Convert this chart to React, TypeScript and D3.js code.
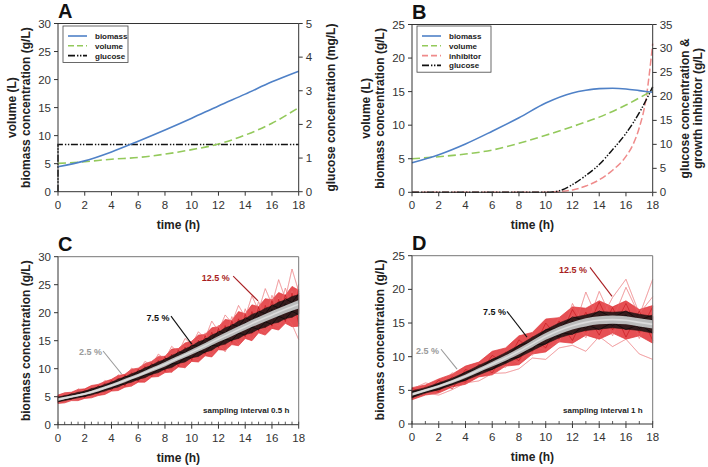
import React from 'react';
import * as d3 from 'd3';

// ---------- shared ticks ----------
const xTickValues = [0, 2, 4, 6, 8, 10, 12, 14, 16, 18];
const hours = [0, 1, 2, 3, 4, 5, 6, 7, 8, 9, 10, 11, 12, 13, 14, 15, 16, 17, 18];
const halfHours = [0, 0.5, 1, 1.5, 2, 2.5, 3, 3.5, 4, 4.5, 5, 5.5, 6, 6.5, 7, 7.5, 8, 8.5, 9, 9.5, 10, 10.5, 11, 11.5, 12, 12.5, 13, 13.5, 14, 14.5, 15, 15.5, 16, 16.5, 17, 17.5, 18];

// ---------- panel A ----------
const aTime = [0, 2, 4, 6, 8, 10, 12, 14, 16, 18];
const aBiomass = [4.45, 5.5, 7.1, 9.0, 11.0, 13.1, 15.3, 17.4, 19.6, 21.5];
const aVolume = [5.05, 5.35, 5.8, 6.1, 6.7, 7.5, 8.5, 10.1, 12.2, 15.0];
const aGlucoseTime = [0, 0, 18];
const aGlucose = [0, 1.4, 1.4]; // mg/L, right axis
const aLeftTicks = [0, 5, 10, 15, 20, 25, 30];
const aRightTicks = [0, 1, 2, 3, 4, 5];

// ---------- panel B ----------
const bTime = [0, 2, 4, 6, 8, 10, 12, 13, 14, 15, 16, 17, 18];
const bBiomass = [4.4, 5.6, 7.2, 9.1, 11.1, 13.3, 14.8, 15.2, 15.45, 15.5, 15.4, 15.15, 14.9];
const bVolTime = [0, 2, 4, 6, 8, 10, 12, 14, 16, 18];
const bVolume = [5.0, 5.3, 5.7, 6.3, 7.3, 8.5, 9.8, 11.2, 13.0, 15.2];
const bGlucoseTime = [0, 2, 4, 6, 8, 10, 10.5, 11, 12, 13, 14, 15, 16, 17, 18];
const bGlucose = [0, 0, 0, 0, 0, 0, 0.05, 0.3, 1.6, 3.5, 5.8, 8.9, 12.3, 16.6, 22];
const bInhibTime = [0, 2, 4, 6, 8, 10, 10.5, 11, 12, 13, 14, 15, 16, 16.5, 17, 17.5, 18];
const bInhibitor = [0, 0, 0, 0, 0, 0, 0.05, 0.15, 0.5, 1.3, 2.6, 4.6, 7.5, 9.8, 13.5, 19.5, 31];
const bLeftTicks = [0, 5, 10, 15, 20, 25];
const bRightTicks = [0, 5, 10, 15, 20, 25, 30, 35];

// ---------- panel C (sampling 0.5 h) ----------
const cMean = [4.5, 5.0, 5.5, 6.2, 7.0, 7.9, 8.8, 9.8, 10.8, 11.9, 13.0, 14.1, 15.3, 16.4, 17.5, 18.6, 19.6, 20.6, 21.5];
const cRedUpper = [5.3, 5.7, 5.8, 6.3, 6.4, 7.0, 7.2, 7.7, 8.1, 8.8, 9.0, 9.9, 10.1, 10.9, 11.3, 12.2, 12.2, 13.5, 13.6, 14.6, 14.9, 16.0, 16.1, 17.3, 17.5, 18.8, 18.6, 20.2, 19.8, 21.4, 21.1, 22.5, 22.3, 23.6, 23.1, 24.7, 24.0];
const cRedLower = [3.8, 3.9, 4.3, 4.3, 4.7, 4.8, 5.2, 5.4, 6.0, 6.1, 6.7, 6.9, 7.6, 7.6, 8.5, 8.6, 9.3, 9.4, 10.3, 10.2, 11.3, 11.2, 12.3, 12.1, 13.4, 13.3, 14.3, 14.1, 15.4, 15.0, 16.4, 16.0, 17.2, 16.9, 18.1, 17.5, 17.6];
const cBlackUpper = [4.9, 5.2, 5.4, 5.8, 5.95, 6.45, 6.7, 7.2, 7.55, 8.15, 8.5, 9.1, 9.5, 10.15, 10.6, 11.25, 11.65, 12.35, 12.85, 13.55, 14.05, 14.8, 15.2, 16.0, 16.5, 17.3, 17.7, 18.5, 18.9, 19.7, 20.1, 20.8, 21.2, 21.9, 22.25, 22.9, 23.2];
const cBlackLower = [4.1, 4.3, 4.6, 4.8, 5.05, 5.3, 5.7, 6.0, 6.45, 6.75, 7.3, 7.6, 8.1, 8.4, 9.0, 9.3, 9.95, 10.2, 10.95, 11.2, 11.95, 12.2, 12.95, 13.3, 14.1, 14.4, 15.1, 15.4, 16.1, 16.4, 17.1, 17.4, 18.05, 18.3, 18.95, 19.2, 19.8];
const cGreyUpper = [4.75, 5.2, 5.7, 6.45, 7.25, 8.2, 9.1, 10.15, 11.2, 12.3, 13.45, 14.6, 15.85, 17.0, 18.1, 19.25, 20.3, 21.3, 22.25];
const cGreyLower = [4.25, 4.8, 5.3, 5.95, 6.75, 7.6, 8.5, 9.45, 10.4, 11.5, 12.55, 13.6, 14.75, 15.8, 16.9, 17.95, 18.9, 19.9, 20.75];
const cOutlier1 = [4.9, 5.6, 5.2, 6.4, 5.9, 6.9, 6.6, 7.9, 7.4, 8.9, 8.3, 10.1, 9.4, 11.3, 10.6, 12.6, 11.7, 14.0, 12.9, 15.4, 14.3, 16.6, 15.4, 18.5, 16.7, 19.6, 18.2, 21.3, 19.2, 23.0, 20.4, 24.3, 21.5, 25.9, 22.5, 27.8, 23.8];
const cOutlier2 = [3.9, 4.2, 4.4, 4.6, 5.1, 5.0, 5.8, 5.5, 6.5, 6.2, 7.3, 6.9, 8.3, 7.8, 9.3, 8.6, 10.1, 9.3, 11.1, 10.1, 12.0, 11.6, 13.2, 12.4, 14.5, 13.0, 15.7, 14.3, 16.5, 15.2, 17.5, 16.4, 18.3, 17.6, 19.5, 17.9, 15.2];
const cOutlier3 = [5.2, 4.6, 5.6, 5.0, 6.2, 5.6, 6.9, 6.3, 7.8, 7.0, 8.7, 8.0, 9.8, 8.8, 11.0, 9.6, 12.3, 10.8, 13.5, 12.0, 14.9, 13.0, 16.4, 13.9, 17.8, 15.2, 19.3, 16.3, 20.7, 17.5, 22.0, 18.9, 23.1, 20.1, 24.4, 21.0, 25.1];
const cOutlier4 = [4.2, 5.1, 4.7, 5.9, 5.4, 6.7, 6.0, 7.4, 7.0, 8.2, 7.6, 9.3, 8.5, 10.4, 9.4, 11.6, 10.4, 12.7, 11.2, 14.1, 12.3, 15.3, 13.6, 16.2, 14.8, 17.4, 15.9, 18.4, 17.1, 19.8, 18.0, 21.1, 19.0, 22.6, 19.8, 23.9, 20.4];
const cRedTrace1 = [5.1, 4.6, 5.6, 5.0, 6.2, 5.5, 7.0, 6.2, 7.9, 6.9, 8.9, 7.7, 9.9, 8.6, 11.0, 9.5, 12.2, 10.3, 13.4, 11.3, 14.7, 12.3, 15.9, 13.3, 17.2, 14.3, 18.5, 15.4, 19.7, 16.3, 21.0, 17.3, 22.1, 18.3, 23.2, 19.1, 24.2];
const cRedTrace2 = [4.0, 5.2, 4.5, 5.8, 4.9, 6.5, 5.5, 7.4, 6.1, 8.3, 6.9, 9.3, 7.7, 10.4, 8.6, 11.5, 9.5, 12.6, 10.4, 13.9, 11.5, 15.1, 12.6, 16.5, 13.7, 17.7, 14.7, 18.9, 15.7, 20.2, 16.7, 21.3, 17.6, 22.4, 18.4, 23.5, 18.0];
const cBlkTrace1 = [4.9, 4.9, 5.5, 5.4, 6.0, 6.1, 6.8, 6.8, 7.6, 7.7, 8.6, 8.6, 9.6, 9.6, 10.7, 10.6, 11.8, 11.7, 13.0, 12.8, 14.2, 14.0, 15.4, 15.2, 16.7, 16.3, 17.9, 17.5, 19.1, 18.6, 20.3, 19.8, 21.4, 20.8, 22.5, 21.8, 23.4];
const cBlkTrace2 = [4.1, 4.5, 4.6, 5.1, 5.0, 5.7, 5.7, 6.4, 6.4, 7.2, 7.2, 8.1, 8.0, 9.0, 9.0, 9.9, 9.9, 10.9, 10.9, 12.0, 11.9, 13.1, 12.9, 14.2, 14.0, 15.3, 15.0, 16.4, 16.0, 17.4, 17.0, 18.4, 17.9, 19.4, 18.8, 20.3, 19.6];
const cBlkTrace3 = [4.7, 4.5, 5.2, 5.1, 5.7, 5.6, 6.5, 6.3, 7.3, 7.1, 8.2, 8.0, 9.2, 8.9, 10.2, 9.9, 11.3, 10.8, 12.4, 11.9, 13.6, 13.0, 14.7, 14.1, 16.0, 15.2, 17.1, 16.3, 18.3, 17.3, 19.5, 18.3, 20.6, 19.2, 21.6, 20.1, 22.6];
const cLeftTicks = [0, 5, 10, 15, 20, 25, 30];

// ---------- panel D (sampling 1 h) ----------
const dMean = [4.4, 5.0, 5.6, 6.3, 7.1, 8.0, 8.9, 9.8, 10.8, 11.9, 13.0, 13.9, 14.6, 15.1, 15.4, 15.5, 15.4, 15.1, 14.8];
const dRedUpper = [5.4, 5.8, 6.7, 7.4, 8.6, 9.2, 10.8, 11.3, 13.1, 13.6, 15.6, 15.8, 17.4, 17.2, 18.3, 17.4, 18.3, 17.0, 17.6];
const dRedLower = [3.6, 4.3, 4.6, 5.5, 5.9, 7.0, 7.3, 8.6, 8.8, 10.4, 10.7, 12.2, 12.0, 13.2, 12.6, 13.5, 12.6, 13.1, 12.0];
const dBlackUpper = [4.9, 5.4, 6.1, 6.8, 7.7, 8.7, 9.6, 10.6, 11.7, 12.9, 14.0, 15.0, 15.8, 16.2, 16.7, 16.6, 16.7, 16.3, 16.0];
const dBlackLower = [3.9, 4.6, 5.1, 5.8, 6.5, 7.3, 8.1, 9.0, 9.9, 10.9, 11.9, 12.8, 13.4, 13.9, 14.1, 14.3, 14.1, 13.9, 13.5];
const dGreyUpper = [4.6, 5.2, 5.8, 6.55, 7.35, 8.3, 9.25, 10.2, 11.25, 12.4, 13.5, 14.45, 15.15, 15.7, 16.0, 16.1, 16.0, 15.7, 15.4];
const dGreyLower = [4.2, 4.8, 5.4, 6.05, 6.85, 7.7, 8.55, 9.4, 10.35, 11.4, 12.5, 13.35, 14.05, 14.5, 14.8, 14.9, 14.8, 14.5, 14.2];
const dOutlier1 = [5.2, 6.1, 5.7, 7.6, 6.9, 9.0, 8.3, 10.9, 10.0, 13.1, 12.0, 15.9, 13.4, 19.6, 15.0, 18.8, 21.5, 16.4, 18.9];
const dOutlier2 = [3.8, 4.6, 4.3, 5.1, 6.1, 6.4, 7.5, 7.6, 8.2, 9.8, 9.6, 11.3, 11.7, 10.8, 13.0, 11.5, 12.6, 10.4, 9.6];
const dOutlier3 = [4.6, 5.3, 6.2, 5.8, 7.6, 7.2, 9.3, 8.4, 11.6, 10.2, 13.8, 12.1, 17.9, 14.2, 19.7, 15.4, 20.3, 16.1, 21.5];
const dOutlier4 = [4.1, 5.4, 4.9, 6.9, 6.2, 8.4, 7.7, 10.1, 9.0, 11.6, 11.0, 12.4, 16.2, 12.8, 17.1, 13.1, 17.8, 12.7, 16.9];
const dRedTrace1 = [5.3, 4.6, 6.5, 5.2, 8.1, 7.3, 10.2, 8.9, 12.5, 10.8, 15.0, 12.6, 17.0, 13.7, 18.1, 14.0, 17.9, 13.6, 17.4];
const dRedTrace2 = [3.8, 5.5, 4.8, 7.0, 6.2, 8.9, 7.6, 10.7, 9.4, 13.0, 11.3, 15.3, 12.4, 16.6, 13.2, 17.3, 12.9, 16.8, 12.4];
const dBlkTrace1 = [4.8, 5.1, 6.0, 6.5, 7.7, 8.2, 9.6, 10.0, 11.7, 12.2, 14.0, 14.2, 15.9, 15.4, 16.8, 15.8, 16.8, 15.4, 16.2];
const dBlkTrace2 = [4.0, 4.9, 5.1, 6.2, 6.5, 7.9, 8.1, 9.6, 9.9, 11.7, 11.9, 13.6, 13.3, 14.8, 14.0, 15.1, 14.0, 14.8, 13.5];
const dBlkTrace3 = [4.6, 4.7, 5.8, 5.9, 7.3, 7.5, 9.2, 9.2, 11.2, 11.1, 13.5, 13.0, 15.3, 14.2, 16.1, 14.6, 16.2, 14.2, 15.6];
const dLeftTicks = [0, 5, 10, 15, 20, 25];

// annotations, in data units: [label, textT, textV, lineT1, lineV1, lineT2, lineV2]
const cNotes: [string, number, number, number, number, number, number][] = [
  ['12.5 %', 11.8, 25.7, 13.1, 26.55, 14.96, 22.1],
  ['7.5 %', 7.48, 18.5, 8.45, 19.4, 10.0, 14.4],
  ['2.5 %', 2.43, 12.45, 3.37, 13.16, 4.76, 9.05],
];
const dNotes: [string, number, number, number, number, number, number][] = [
  ['12.5 %', 12.04, 22.4, 13.31, 23.26, 14.96, 18.96],
  ['7.5 %', 6.17, 16.15, 7.1, 16.74, 8.6, 12.9],
  ['2.5 %', 1.16, 10.4, 2.17, 11.1, 3.37, 8.15],
];

// ---------- styling ----------
const FONT = 'Liberation Sans, Arial, Helvetica, sans-serif';
const AX = '#333';
const BLUE = '#4f81c7';
const GREEN = '#93c95b';
const PINK = '#ef8b8b';
const DASHDOT = '7,2,1.4,1.6,1.4,1.6';
const noteColors = ['#a81e22', '#111', '#9a9a9a'];

type Sc = d3.ScaleLinear<number, number>;

function Frame(props: {
  x: Sc; y: Sc; yR?: Sc; yTicks: number[]; yRTicks?: number[]; minor?: number[];
  border: string; letter: string; yTitle: string[]; yRTitle?: string[]; titleX: number[]; titleRX?: number[];
}) {
  const { x, y, yR, yTicks, yRTicks, minor, border, letter, yTitle, yRTitle, titleX, titleRX } = props;
  const [x0, x1] = x.range();
  const [yb, yt] = y.range();
  const ym = (yb + yt) / 2;
  return (
    <g fontFamily={FONT}>
      <line x1={x0} x2={x1} y1={yt} y2={yt} stroke={border} strokeWidth={1} />
      <line x1={x1} x2={x1} y1={yt} y2={yb} stroke={border} strokeWidth={1} />
      <line x1={x0} x2={x0} y1={yt} y2={yb} stroke={AX} strokeWidth={1} />
      <line x1={x0} x2={x1} y1={yb} y2={yb} stroke={AX} strokeWidth={1} />
      {yTicks.map((t) => (
        <g key={'yl' + t}>
          <line x1={x0 - 4} x2={x0} y1={y(t)} y2={y(t)} stroke={AX} />
          <text x={x0 - 7} y={y(t) + 4} textAnchor="end" fontSize={11.5} fill="#333">{t}</text>
        </g>
      ))}
      {xTickValues.map((t) => (
        <g key={'xt' + t}>
          <line x1={x(t)} x2={x(t)} y1={yb} y2={yb + 4} stroke={AX} />
          <text x={x(t)} y={yb + 17} textAnchor="middle" fontSize={11.5} fill="#333">{t}</text>
        </g>
      ))}
      {(minor || []).map((t) => (
        <line key={'mn' + t} x1={x(t)} x2={x(t)} y1={yb} y2={yb - 3} stroke={AX} strokeWidth={0.8} />
      ))}
      {yR && (yRTicks || []).map((t) => (
        <g key={'yr' + t}>
          <line x1={x1} x2={x1 + 4} y1={yR(t)} y2={yR(t)} stroke={AX} />
          <text x={x1 + 7} y={yR(t) + 4} textAnchor="start" fontSize={11.5} fill="#333">{t}</text>
        </g>
      ))}
      <text x={x0} y={yt - 5.5} fontSize={20} fontWeight="bold" fill="#111">{letter}</text>
      <text x={(x0 + x1) / 2} y={yb + 37} textAnchor="middle" fontSize={12} fontWeight="bold" fill="#222">time (h)</text>
      {yTitle.map((s, i) => (
        <text key={'yt' + i} transform={`translate(${titleX[i]},${ym}) rotate(-90)`} textAnchor="middle" fontSize={12} fontWeight="bold" fill="#222">{s}</text>
      ))}
      {(yRTitle || []).map((s, i) => (
        <text key={'yrt' + i} transform={`translate(${(titleRX || [])[i]},${ym}) rotate(-90)`} textAnchor="middle" fontSize={12} fontWeight="bold" fill="#222">{s}</text>
      ))}
    </g>
  );
}

function Legend(props: { x: number; y: number; w: number; items: { label: string; color: string; dash?: string; width?: number }[] }) {
  const { x, y, w, items } = props;
  const rowH = 9.8;
  return (
    <g fontFamily={FONT}>
      <rect x={x} y={y} width={w} height={items.length * rowH + 7} fill="#fff" stroke="#444" strokeWidth={0.8} />
      {items.map((it, i) => (
        <g key={it.label}>
          <line x1={x + 5} x2={x + 24} y1={y + 10 + i * rowH} y2={y + 10 + i * rowH} stroke={it.color} strokeWidth={it.width || 1.6} strokeDasharray={it.dash} />
          <text x={x + 32} y={y + 13 + i * rowH} fontSize={8} fontWeight="bold" fill="#222">{it.label}</text>
        </g>
      ))}
    </g>
  );
}

function lineOf(x: Sc, y: Sc, ts: number[], vs: number[], curve: d3.CurveFactory = d3.curveMonotoneX) {
  return d3.line<number>().x((_, i) => x(ts[i])).y((v) => y(v)).curve(curve)(vs) || '';
}
function areaOf(x: Sc, y: Sc, ts: number[], lo: number[], hi: number[], curve: d3.CurveFactory = d3.curveLinear) {
  return d3.area<number>().x((_, i) => x(ts[i])).y0((_, i) => y(lo[i])).y1((v) => y(v)).curve(curve)(hi) || '';
}

function PanelA() {
  const x = d3.scaleLinear().domain([0, 18]).range([58, 298.7]);
  const y = d3.scaleLinear().domain([0, 30]).range([191.7, 23.5]);
  const yR = d3.scaleLinear().domain([0, 5]).range([191.7, 23.5]);
  return (
    <g>
      <path d={lineOf(x, yR, aGlucoseTime, aGlucose, d3.curveLinear)} fill="none" stroke="#111" strokeWidth={1.5} strokeDasharray={DASHDOT} />
      <path d={lineOf(x, y, aTime, aVolume)} fill="none" stroke={GREEN} strokeWidth={1.6} strokeDasharray="8,4" />
      <path d={lineOf(x, y, aTime, aBiomass)} fill="none" stroke={BLUE} strokeWidth={1.6} />
      <Frame x={x} y={y} yR={yR} yTicks={aLeftTicks} yRTicks={aRightTicks} border={AX} letter="A"
        yTitle={['volume (L)', 'biomass concentration (g/L)']} titleX={[15.5, 29.5]}
        yRTitle={['glucose concentration (mg/L)']} titleRX={[335]} />
      <Legend x={63} y={26} w={65} items={[
        { label: 'biomass', color: BLUE },
        { label: 'volume', color: GREEN, dash: '6,3' },
        { label: 'glucose', color: '#111', dash: DASHDOT },
      ]} />
    </g>
  );
}

function PanelB() {
  const x = d3.scaleLinear().domain([0, 18]).range([412, 652.7]);
  const y = d3.scaleLinear().domain([0, 25]).range([192.3, 24.5]);
  const yR = d3.scaleLinear().domain([0, 35]).range([192.3, 24.5]);
  return (
    <g>
      <path d={lineOf(x, yR, bInhibTime, bInhibitor)} fill="none" stroke={PINK} strokeWidth={1.5} strokeDasharray="7,3" />
      <path d={lineOf(x, yR, bGlucoseTime, bGlucose)} fill="none" stroke="#111" strokeWidth={1.5} strokeDasharray={DASHDOT} />
      <path d={lineOf(x, y, bVolTime, bVolume)} fill="none" stroke={GREEN} strokeWidth={1.6} strokeDasharray="8,4" />
      <path d={lineOf(x, y, bTime, bBiomass)} fill="none" stroke={BLUE} strokeWidth={1.6} />
      <Frame x={x} y={y} yR={yR} yTicks={bLeftTicks} yRTicks={bRightTicks} border={AX} letter="B"
        yTitle={['volume (L)', 'biomass concentration (g/L)']} titleX={[369.5, 383.5]}
        yRTitle={['glucose concentration &', 'growth inhibitor (g/L)']} titleRX={[689, 702]} />
      <Legend x={417} y={26} w={74} items={[
        { label: 'biomass', color: BLUE },
        { label: 'volume', color: GREEN, dash: '6,3' },
        { label: 'inhibitor', color: PINK, dash: '6,3' },
        { label: 'glucose', color: '#111', dash: DASHDOT },
      ]} />
    </g>
  );
}

function NoisePanel(props: {
  x: Sc; y: Sc; ts: number[]; redU: number[]; redL: number[]; blkU: number[]; blkL: number[];
  greyU: number[]; greyL: number[]; mean: number[]; outliers: number[][]; redTraces: number[][]; blkTraces: number[][];
  notes: [string, number, number, number, number, number, number][];
  samplingLabel: string; sampT: number; sampV: number;
}) {
  const { x, y, ts, redU, redL, blkU, blkL, greyU, greyL, mean, outliers, redTraces, blkTraces, notes, samplingLabel, sampT, sampV } = props;
  return (
    <g>
      {outliers.map((o, i) => (
        <path key={'o' + i} d={lineOf(x, y, ts, o, d3.curveLinear)} fill="none" stroke="#e4585c" strokeOpacity={0.6} strokeWidth={0.8} />
      ))}
      <path d={areaOf(x, y, ts, redL, redU)} fill="#e12a2e" fillOpacity={0.82} stroke="#e0383c" strokeWidth={0.7} />
      {outliers.map((o, i) => (
        <path key={'ob' + i} d={lineOf(x, y, ts, o, d3.curveLinear)} fill="none" stroke="#f28c90" strokeOpacity={0.55} strokeWidth={0.6} />
      ))}
      {redTraces.map((o, i) => (
        <path key={'r' + i} d={lineOf(x, y, ts, o, d3.curveLinear)} fill="none" stroke="#c4161c" strokeOpacity={0.8} strokeWidth={0.8} />
      ))}
      <path d={areaOf(x, y, ts, blkL, blkU)} fill="#1c1414" fillOpacity={0.88} stroke="#2a1010" strokeWidth={0.6} />
      {blkTraces.map((o, i) => (
        <path key={'b' + i} d={lineOf(x, y, ts, o, d3.curveLinear)} fill="none" stroke="#080808" strokeOpacity={0.85} strokeWidth={0.8} />
      ))}
      <path d={areaOf(x, y, hours, greyL, greyU, d3.curveMonotoneX)} fill="#bcbcbc" />
      <path d={lineOf(x, y, hours, mean)} fill="none" stroke="#dcdcdc" strokeWidth={1.6} />
      {notes.map((n, i) => (
        <g key={n[0]} fontFamily={FONT}>
          <line x1={x(n[3])} y1={y(n[4])} x2={x(n[5])} y2={y(n[6])} stroke={noteColors[i]} strokeWidth={1.1} />
          <text x={x(n[1])} y={y(n[2])} textAnchor="middle" fontSize={9} fontWeight="bold" fill={noteColors[i]}>{n[0]}</text>
        </g>
      ))}
      <text x={x(sampT)} y={y(sampV)} textAnchor="end" fontFamily={FONT} fontSize={8} fontWeight="bold" fill="#222">{samplingLabel}</text>
    </g>
  );
}

function PanelC() {
  const x = d3.scaleLinear().domain([0, 18]).range([58, 298.7]);
  const y = d3.scaleLinear().domain([0, 30]).range([424.7, 256.7]);
  return (
    <g>
      <NoisePanel x={x} y={y} ts={halfHours} redU={cRedUpper} redL={cRedLower} blkU={cBlackUpper} blkL={cBlackLower}
        greyU={cGreyUpper} greyL={cGreyLower} mean={cMean} outliers={[cOutlier1, cOutlier2, cOutlier3, cOutlier4]}
        redTraces={[cRedTrace1, cRedTrace2]} blkTraces={[cBlkTrace1, cBlkTrace2, cBlkTrace3]} notes={cNotes}
        samplingLabel="sampling interval 0.5 h" sampT={17.3} sampV={2.1} />
      <Frame x={x} y={y} yTicks={cLeftTicks} minor={halfHours} border="#777" letter="C"
        yTitle={['biomass concentration (g/L)']} titleX={[29.5]} />
    </g>
  );
}

function PanelD() {
  const x = d3.scaleLinear().domain([0, 18]).range([412, 652.7]);
  const y = d3.scaleLinear().domain([0, 25]).range([424, 255.7]);
  return (
    <g>
      <NoisePanel x={x} y={y} ts={hours} redU={dRedUpper} redL={dRedLower} blkU={dBlackUpper} blkL={dBlackLower}
        greyU={dGreyUpper} greyL={dGreyLower} mean={dMean} outliers={[dOutlier1, dOutlier2, dOutlier3, dOutlier4]}
        redTraces={[dRedTrace1, dRedTrace2]} blkTraces={[dBlkTrace1, dBlkTrace2, dBlkTrace3]} notes={dNotes}
        samplingLabel="sampling interval 1 h" sampT={17.25} sampV={1.63} />
      <Frame x={x} y={y} yTicks={dLeftTicks} minor={hours} border="#777" letter="D"
        yTitle={['biomass concentration (g/L)']} titleX={[383.5]} />
    </g>
  );
}

export default function App() {
  return (
    <svg width={708} height={467} viewBox="0 0 708 467" style={{ position: 'absolute', left: 0, top: 0, background: '#fff' }}>
      <rect width={708} height={467} fill="#fff" />
      <PanelA />
      <PanelB />
      <PanelC />
      <PanelD />
    </svg>
  );
}
